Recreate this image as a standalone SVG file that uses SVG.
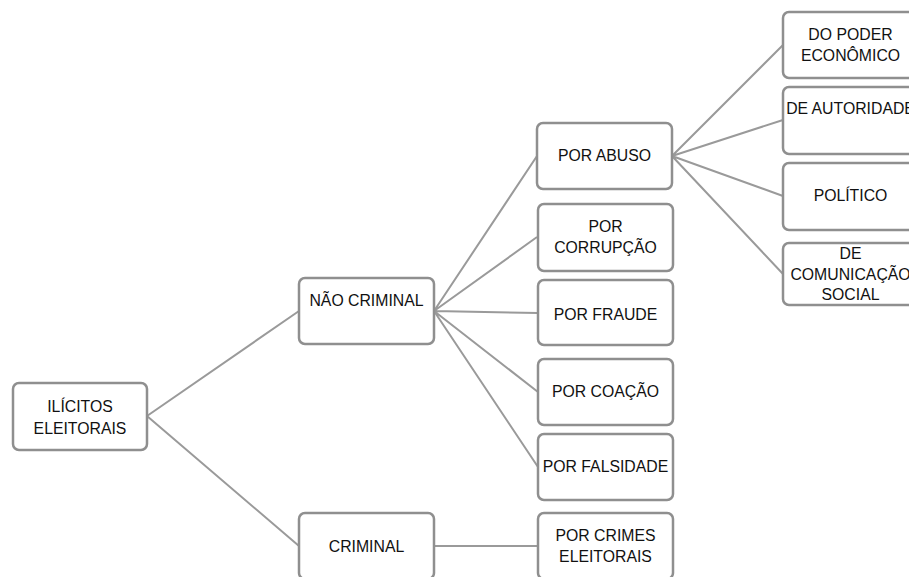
<svg xmlns="http://www.w3.org/2000/svg" width="909" height="577" viewBox="0 0 909 577">
<style>
.box{fill:#fff;stroke:#8f8f8f;stroke-width:2.5}
.t{font-family:"Liberation Sans",Arial,sans-serif;font-size:15.8px;fill:#111;text-anchor:middle}
.c{stroke:#9a9a9a;stroke-width:2;fill:none}
</style>
<rect width="909" height="577" fill="#fff"/>
<g id="connectors">
<path class="c" d="M147 416 L299 311 M147 416 L299 546"/>
<path class="c" d="M434 311 L537 156 M434 311 L537 237 M434 311 L538 313 M434 311 L538 392 M434 311 L538 467"/>
<path class="c" d="M434 546 L538 546"/>
<path class="c" d="M672 156 L783 45 M672 156 L783 120 M672 156 L783 196 M672 156 L783 274"/>
</g>
<g id="ilicitos"><rect class="box" x="13" y="383" width="134" height="67" rx="6"/><text class="t" x="80" y="412">ILÍCITOS</text><text class="t" x="80" y="434">ELEITORAIS</text></g>
<g id="nao-criminal"><rect class="box" x="299" y="278" width="135" height="66" rx="6"/><text class="t" x="366.5" y="306">NÃO CRIMINAL</text></g>
<g id="criminal"><rect class="box" x="299" y="513" width="135" height="66" rx="6"/><text class="t" x="366.5" y="552">CRIMINAL</text></g>
<g id="por-abuso"><rect class="box" x="537" y="123" width="135" height="66" rx="6"/><text class="t" x="604.5" y="161">POR ABUSO</text></g>
<g id="por-corrupcao"><rect class="box" x="538" y="204" width="135" height="67" rx="6"/><text class="t" x="605.5" y="232">POR</text><text class="t" x="605.5" y="253">CORRUPÇÃO</text></g>
<g id="por-fraude"><rect class="box" x="538" y="280" width="135" height="65" rx="6"/><text class="t" x="605.5" y="320">POR FRAUDE</text></g>
<g id="por-coacao"><rect class="box" x="538" y="359" width="135" height="66" rx="6"/><text class="t" x="605.5" y="397">POR COAÇÃO</text></g>
<g id="por-falsidade"><rect class="box" x="538" y="434" width="135" height="66" rx="6"/><text class="t" x="605.5" y="472">POR FALSIDADE</text></g>
<g id="por-crimes"><rect class="box" x="538" y="513" width="135" height="66" rx="6"/><text class="t" x="605.5" y="541">POR CRIMES</text><text class="t" x="605.5" y="562">ELEITORAIS</text></g>
<g id="poder-economico"><rect class="box" x="783" y="12" width="135" height="66" rx="6"/><text class="t" x="850.5" y="40">DO PODER</text><text class="t" x="850.5" y="61">ECONÔMICO</text></g>
<g id="autoridade"><rect class="box" x="783" y="87" width="135" height="67" rx="6"/><text class="t" x="850.5" y="114">DE AUTORIDADE</text></g>
<g id="politico"><rect class="box" x="783" y="163" width="135" height="67" rx="6"/><text class="t" x="850.5" y="201">POLÍTICO</text></g>
<g id="comunicacao"><rect class="box" x="783" y="243" width="135" height="62" rx="6"/><text class="t" x="850.5" y="259">DE</text><text class="t" x="850.5" y="280">COMUNICAÇÃO</text><text class="t" x="850.5" y="300">SOCIAL</text></g>
</svg>
